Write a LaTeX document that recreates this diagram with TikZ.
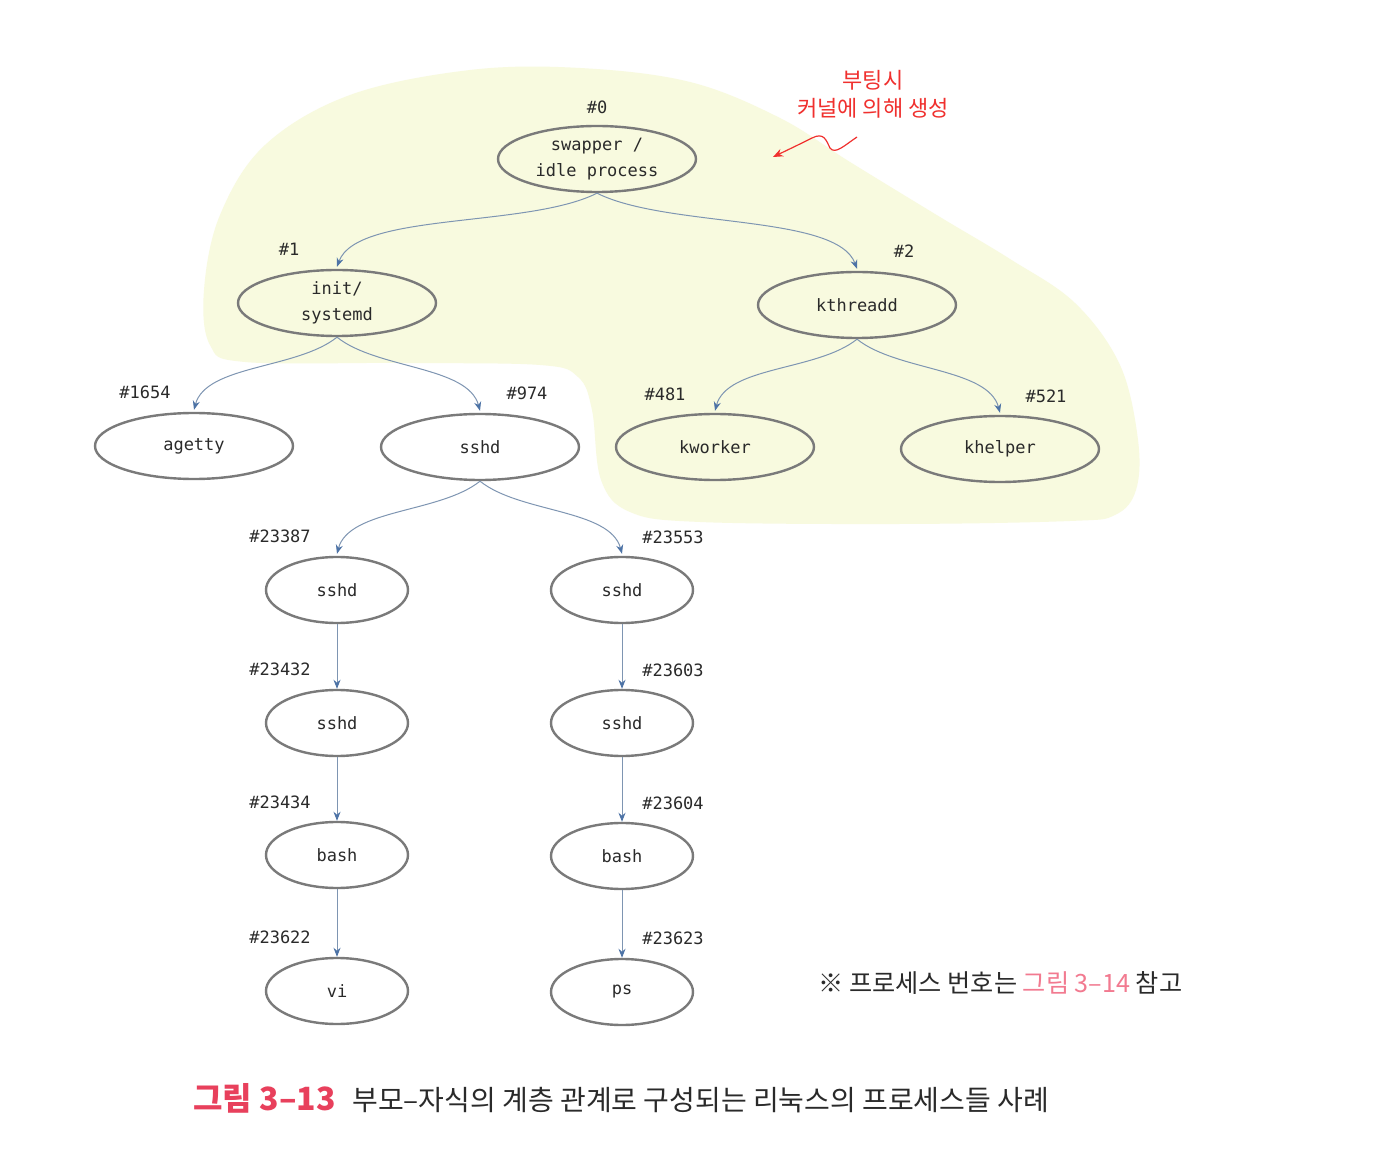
\documentclass[tikz,border=0pt]{standalone}
\usepackage{fontspec}
\setmainfont{DejaVu Sans}
\newfontfamily\kr{Noto Sans CJK KR}
\newfontfamily\mono{DejaVu Sans Mono}
\usetikzlibrary{shapes.geometric,arrows.meta}
\definecolor{blob}{HTML}{F8FADF}
\definecolor{edgec}{HTML}{7E95B2}
\definecolor{tipc}{HTML}{4D73A6}
\definecolor{ringc}{HTML}{7A7A7A}
\definecolor{annred}{HTML}{F0302E}
\definecolor{capred}{HTML}{E8405C}
\definecolor{notered}{HTML}{F27A90}
\definecolor{txt}{HTML}{2A2A2A}
\tikzset{
  proc/.style={ellipse,draw=ringc,line width=1.2pt,inner sep=0pt,
    minimum height=33pt,text=txt,font=\mono\fontsize{8.5}{13}\selectfont,align=center},
  wide/.style={proc,minimum width=99pt},
  narrow/.style={proc,minimum width=71pt},
  pid/.style={text=txt,font=\mono\fontsize{8.5}{10}\selectfont,inner sep=0pt},
  edge/.style={draw=edgec,line width=0.5pt,-{Stealth[length=4.5pt,width=3.5pt,color=tipc]}},
}
\begin{document}
\begin{tikzpicture}[x=0.5pt,y=-0.5pt]
\fill[white] (0,0) rectangle (1376,1154);
\useasboundingbox (0,0) rectangle (1376,1154);
% highlighted region
\fill[blob] plot[smooth cycle,tension=0.6] coordinates {
 (470,70) (580,68) (690,82) (780,118) (850,162) (940,217) (1010,259)
 (1075,303) (1120,365) (1138,440) (1136,490) (1115,515) (1070,521) (900,524)
 (700,522) (630,512) (601,480) (592,410) (578,377) (540,365) (400,363)
 (245,362) (210,345) (204,290) (220,215) (265,145) (350,95)};
% nodes
\node[wide] (n0) at (597,159) {swapper /\\idle process};
\node[wide] (n1) at (337,303) {init/\\systemd};
\node[wide] (n2) at (857,305) {kthreadd};
\node[wide] (n1654) at (194,446) {agetty};
\node[wide] (n974) at (480,447) {sshd};
\node[wide] (n481) at (715,447) {kworker};
\node[wide] (n521) at (1000,449) {khelper};
\node[narrow] (n23387) at (337,590) {sshd};
\node[narrow] (n23553) at (622,590) {sshd};
\node[narrow] (n23432) at (337,723) {sshd};
\node[narrow] (n23603) at (622,723) {sshd};
\node[narrow] (n23434) at (337,855) {bash};
\node[narrow] (n23604) at (622,856) {bash};
\node[narrow] (n23622) at (337,991) {vi};
\node[narrow] (n23623) at (622,992) {ps};
% pid labels
\node[pid] (l0) at (597,107) {\#0};
\node[pid] (l1) at (289,249) {\#1};
\node[pid] (l2) at (904,251) {\#2};
\node[pid] (l1654) at (145,392) {\#1654};
\node[pid] (l974) at (527,393) {\#974};
\node[pid] (l481) at (665,394) {\#481};
\node[pid] (l521) at (1046,396) {\#521};
\node[pid] (l23387) at (280,536) {\#23387};
\node[pid] (l23553) at (673,537) {\#23553};
\node[pid] (l23432) at (280,669) {\#23432};
\node[pid] (l23603) at (673,670) {\#23603};
\node[pid] (l23434) at (280,802) {\#23434};
\node[pid] (l23604) at (673,803) {\#23604};
\node[pid] (l23622) at (280,937) {\#23622};
\node[pid] (l23623) at (673,938) {\#23623};
% curved edges
\draw[edge] (n0.south) .. controls +(-70,35) and +(20,-55) .. ([yshift=1pt]n1.north);
\draw[edge] (n0.south) .. controls +(70,35) and +(-20,-55) .. ([yshift=1pt]n2.north);
\draw[edge] (n1.south) .. controls +(-40,32) and +(12,-45) .. ([yshift=1pt]n1654.north);
\draw[edge] (n1.south) .. controls +(40,32) and +(-12,-45) .. ([yshift=1pt]n974.north);
\draw[edge] (n2.south) .. controls +(-40,32) and +(12,-45) .. ([yshift=1pt]n481.north);
\draw[edge] (n2.south) .. controls +(40,32) and +(-12,-45) .. ([yshift=1pt]n521.north);
\draw[edge] (n974.south) .. controls +(-40,32) and +(12,-45) .. ([yshift=1pt]n23387.north);
\draw[edge] (n974.south) .. controls +(40,32) and +(-12,-45) .. ([yshift=1pt]n23553.north);
% straight edges
\draw[edge] (n23387) -- (n23432);
\draw[edge] (n23432) -- (n23434);
\draw[edge] (n23434) -- (n23622);
\draw[edge] (n23553) -- (n23603);
\draw[edge] (n23603) -- (n23604);
\draw[edge] (n23604) -- (n23623);
% red annotation
\node[text=annred,font=\kr\fontsize{11}{14}\selectfont,align=center,inner sep=0pt] (ann) at (873,94) {부팅시\\커널에 의해 생성};
\coordinate (sq0) at (857,137);
\coordinate (sqtip) at (773,157);
\draw[annred,line width=0.6pt,-{Stealth[length=5pt,width=4pt]}] (sq0) .. controls (845,145) and (835,155) .. (830,148) .. controls (826,140) and (824,132) .. (812,138) .. controls (800,144) .. (sqtip);
% note
\node[anchor=west,inner sep=0pt,text=txt,font=\kr\fontsize{12.6}{14}\selectfont] (note) at (818,983) {※ 프로세스 번호는 \textcolor{notered}{그림 3–14} 참고};
% caption
\node[anchor=west,inner sep=0pt,text=capred,font=\kr\bfseries\fontsize{16}{18}\selectfont] (capnum) at (193,1098) {그림 3–13};
\node[anchor=west,inner sep=0pt,text=txt,font=\kr\fontsize{14}{16}\selectfont] (captext) at (352,1100) {부모–자식의 계층 관계로 구성되는 리눅스의 프로세스들 사례};
\end{tikzpicture}
\end{document}
